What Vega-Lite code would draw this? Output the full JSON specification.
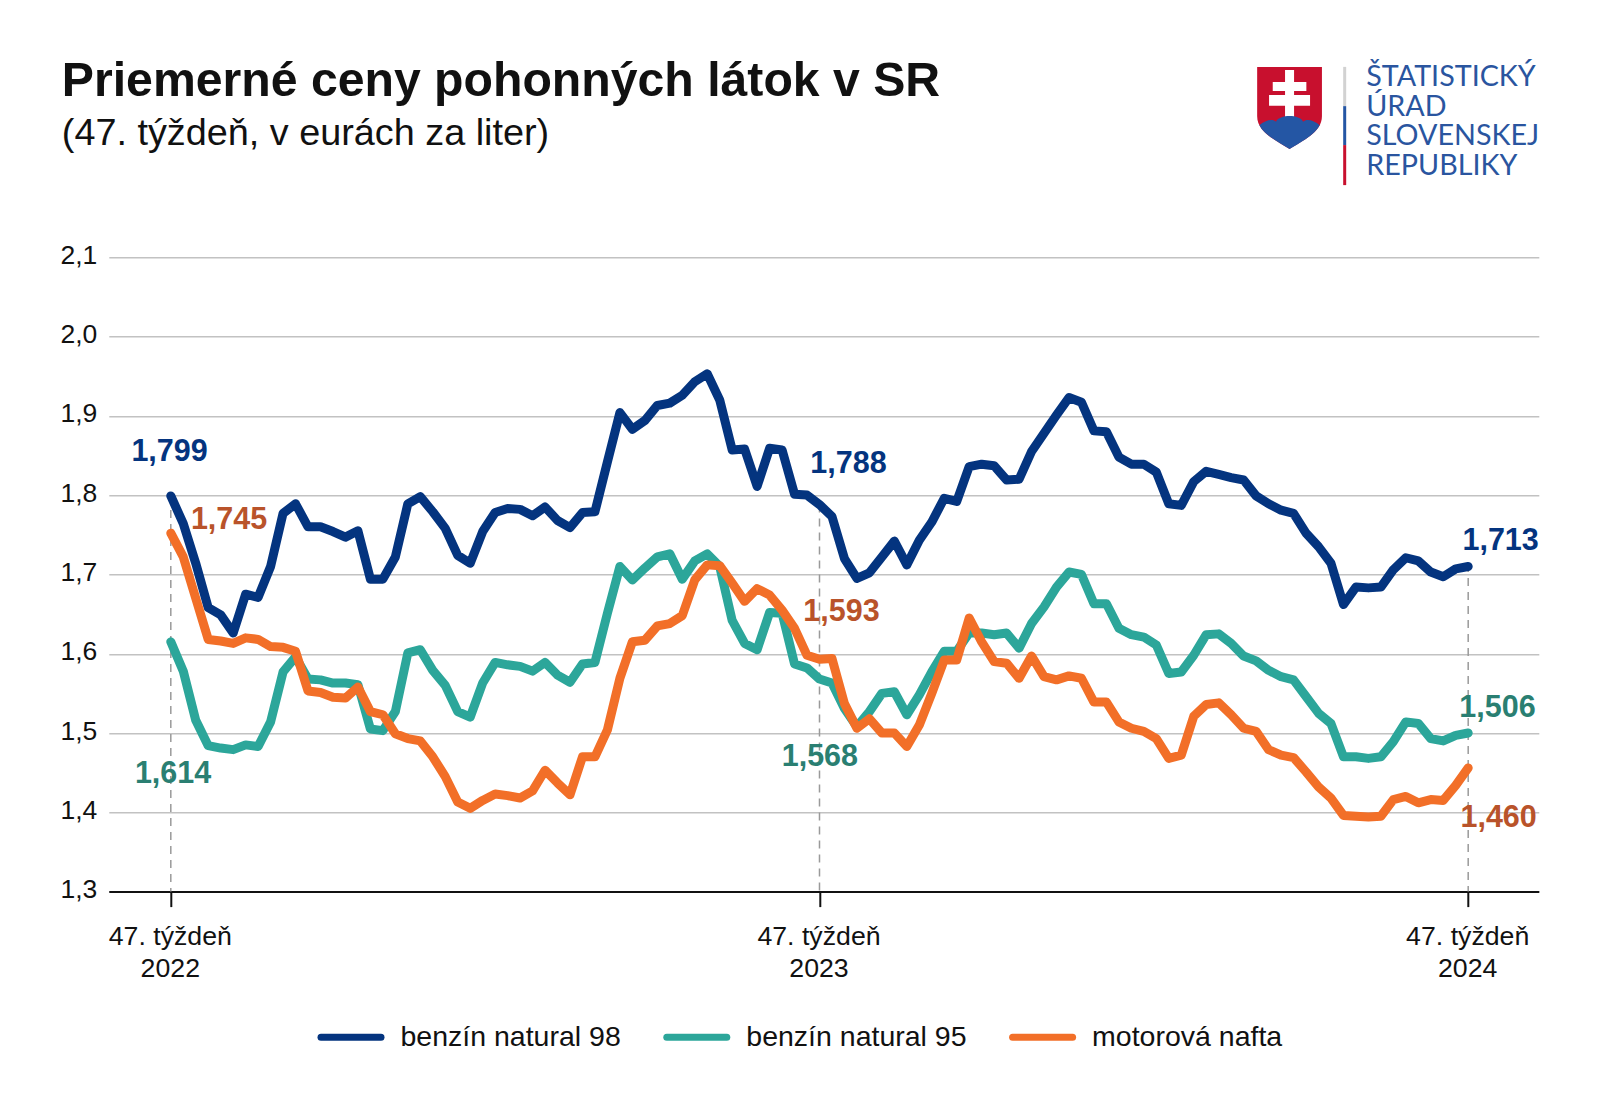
{"$schema":"https://vega.github.io/schema/vega-lite/v6.json","width":1430,"height":634.4,"autosize":{"type":"none"},"padding":{"left":108.8,"top":257.2,"right":61.2,"bottom":223.4},"background":"white","config":{"font":"Liberation Sans","view":{"stroke":null}},
"title":{"text":"Priemerné ceny pohonných látok v SR","subtitle":"(47. týždeň, v eurách za liter)","anchor":"start","frame":"group","dx":-47,"offset":-91,"fontSize":48.2,"fontWeight":"bold","color":"#111111","subtitleFontSize":37.8,"subtitleColor":"#111111","subtitleFontWeight":"normal","subtitlePadding":9,"font":"Liberation Sans","subtitleFont":"Liberation Sans"},
"datasets":{"prices":[
{"week":0,"benzín natural 98":1.799,"benzín natural 95":1.615,"motorová nafta":1.752},
{"week":1,"benzín natural 98":1.764,"benzín natural 95":1.578,"motorová nafta":1.722},
{"week":2,"benzín natural 98":1.714,"benzín natural 95":1.516,"motorová nafta":1.670},
{"week":3,"benzín natural 98":1.658,"benzín natural 95":1.484,"motorová nafta":1.618},
{"week":4,"benzín natural 98":1.649,"benzín natural 95":1.481,"motorová nafta":1.616},
{"week":5,"benzín natural 98":1.626,"benzín natural 95":1.479,"motorová nafta":1.613},
{"week":6,"benzín natural 98":1.675,"benzín natural 95":1.485,"motorová nafta":1.620},
{"week":7,"benzín natural 98":1.671,"benzín natural 95":1.483,"motorová nafta":1.618},
{"week":8,"benzín natural 98":1.710,"benzín natural 95":1.514,"motorová nafta":1.609},
{"week":9,"benzín natural 98":1.777,"benzín natural 95":1.577,"motorová nafta":1.608},
{"week":10,"benzín natural 98":1.789,"benzín natural 95":1.596,"motorová nafta":1.603},
{"week":11,"benzín natural 98":1.760,"benzín natural 95":1.568,"motorová nafta":1.553},
{"week":12,"benzín natural 98":1.760,"benzín natural 95":1.567,"motorová nafta":1.551},
{"week":13,"benzín natural 98":1.754,"benzín natural 95":1.563,"motorová nafta":1.545},
{"week":14,"benzín natural 98":1.747,"benzín natural 95":1.563,"motorová nafta":1.544},
{"week":15,"benzín natural 98":1.755,"benzín natural 95":1.561,"motorová nafta":1.558},
{"week":16,"benzín natural 98":1.694,"benzín natural 95":1.505,"motorová nafta":1.527},
{"week":17,"benzín natural 98":1.694,"benzín natural 95":1.503,"motorová nafta":1.523},
{"week":18,"benzín natural 98":1.722,"benzín natural 95":1.527,"motorová nafta":1.499},
{"week":19,"benzín natural 98":1.789,"benzín natural 95":1.601,"motorová nafta":1.493},
{"week":20,"benzín natural 98":1.798,"benzín natural 95":1.605,"motorová nafta":1.490},
{"week":21,"benzín natural 98":1.779,"benzín natural 95":1.579,"motorová nafta":1.470},
{"week":22,"benzín natural 98":1.758,"benzín natural 95":1.560,"motorová nafta":1.445},
{"week":23,"benzín natural 98":1.724,"benzín natural 95":1.527,"motorová nafta":1.413},
{"week":24,"benzín natural 98":1.714,"benzín natural 95":1.520,"motorová nafta":1.405},
{"week":25,"benzín natural 98":1.754,"benzín natural 95":1.563,"motorová nafta":1.415},
{"week":26,"benzín natural 98":1.778,"benzín natural 95":1.589,"motorová nafta":1.423},
{"week":27,"benzín natural 98":1.783,"benzín natural 95":1.586,"motorová nafta":1.421},
{"week":28,"benzín natural 98":1.782,"benzín natural 95":1.584,"motorová nafta":1.418},
{"week":29,"benzín natural 98":1.774,"benzín natural 95":1.578,"motorová nafta":1.427},
{"week":30,"benzín natural 98":1.785,"benzín natural 95":1.589,"motorová nafta":1.453},
{"week":31,"benzín natural 98":1.768,"benzín natural 95":1.573,"motorová nafta":1.437},
{"week":32,"benzín natural 98":1.759,"benzín natural 95":1.564,"motorová nafta":1.422},
{"week":33,"benzín natural 98":1.778,"benzín natural 95":1.587,"motorová nafta":1.470},
{"week":34,"benzín natural 98":1.779,"benzín natural 95":1.589,"motorová nafta":1.470},
{"week":35,"benzín natural 98":1.842,"benzín natural 95":1.651,"motorová nafta":1.504},
{"week":36,"benzín natural 98":1.904,"benzín natural 95":1.710,"motorová nafta":1.569},
{"week":37,"benzín natural 98":1.883,"benzín natural 95":1.693,"motorová nafta":1.615},
{"week":38,"benzín natural 98":1.894,"benzín natural 95":1.708,"motorová nafta":1.617},
{"week":39,"benzín natural 98":1.913,"benzín natural 95":1.722,"motorová nafta":1.635},
{"week":40,"benzín natural 98":1.916,"benzín natural 95":1.726,"motorová nafta":1.638},
{"week":41,"benzín natural 98":1.926,"benzín natural 95":1.694,"motorová nafta":1.648},
{"week":42,"benzín natural 98":1.943,"benzín natural 95":1.717,"motorová nafta":1.693},
{"week":43,"benzín natural 98":1.953,"benzín natural 95":1.726,"motorová nafta":1.712},
{"week":44,"benzín natural 98":1.920,"benzín natural 95":1.710,"motorová nafta":1.711},
{"week":45,"benzín natural 98":1.857,"benzín natural 95":1.642,"motorová nafta":1.689},
{"week":46,"benzín natural 98":1.858,"benzín natural 95":1.613,"motorová nafta":1.666},
{"week":47,"benzín natural 98":1.811,"benzín natural 95":1.605,"motorová nafta":1.682},
{"week":48,"benzín natural 98":1.859,"benzín natural 95":1.652,"motorová nafta":1.674},
{"week":49,"benzín natural 98":1.857,"benzín natural 95":1.651,"motorová nafta":1.655},
{"week":50,"benzín natural 98":1.801,"benzín natural 95":1.587,"motorová nafta":1.632},
{"week":51,"benzín natural 98":1.800,"benzín natural 95":1.582,"motorová nafta":1.598},
{"week":52,"benzín natural 98":1.788,"benzín natural 95":1.568,"motorová nafta":1.593},
{"week":53,"benzín natural 98":1.773,"benzín natural 95":1.563,"motorová nafta":1.594},
{"week":54,"benzín natural 98":1.720,"benzín natural 95":1.531,"motorová nafta":1.537},
{"week":55,"benzín natural 98":1.695,"benzín natural 95":1.508,"motorová nafta":1.506},
{"week":56,"benzín natural 98":1.702,"benzín natural 95":1.527,"motorová nafta":1.518},
{"week":57,"benzín natural 98":1.722,"benzín natural 95":1.550,"motorová nafta":1.500},
{"week":58,"benzín natural 98":1.742,"benzín natural 95":1.552,"motorová nafta":1.500},
{"week":59,"benzín natural 98":1.712,"benzín natural 95":1.523,"motorová nafta":1.483},
{"week":60,"benzín natural 98":1.743,"benzín natural 95":1.548,"motorová nafta":1.510},
{"week":61,"benzín natural 98":1.766,"benzín natural 95":1.577,"motorová nafta":1.550},
{"week":62,"benzín natural 98":1.796,"benzín natural 95":1.603,"motorová nafta":1.592},
{"week":63,"benzín natural 98":1.792,"benzín natural 95":1.603,"motorová nafta":1.592},
{"week":64,"benzín natural 98":1.836,"benzín natural 95":1.626,"motorová nafta":1.645},
{"week":65,"benzín natural 98":1.839,"benzín natural 95":1.626,"motorová nafta":1.615},
{"week":66,"benzín natural 98":1.837,"benzín natural 95":1.624,"motorová nafta":1.590},
{"week":67,"benzín natural 98":1.819,"benzín natural 95":1.626,"motorová nafta":1.588},
{"week":68,"benzín natural 98":1.820,"benzín natural 95":1.607,"motorová nafta":1.569},
{"week":69,"benzín natural 98":1.855,"benzín natural 95":1.638,"motorová nafta":1.597},
{"week":70,"benzín natural 98":1.878,"benzín natural 95":1.659,"motorová nafta":1.571},
{"week":71,"benzín natural 98":1.901,"benzín natural 95":1.684,"motorová nafta":1.567},
{"week":72,"benzín natural 98":1.923,"benzín natural 95":1.703,"motorová nafta":1.572},
{"week":73,"benzín natural 98":1.917,"benzín natural 95":1.700,"motorová nafta":1.569},
{"week":74,"benzín natural 98":1.881,"benzín natural 95":1.663,"motorová nafta":1.539},
{"week":75,"benzín natural 98":1.880,"benzín natural 95":1.663,"motorová nafta":1.539},
{"week":76,"benzín natural 98":1.848,"benzín natural 95":1.632,"motorová nafta":1.514},
{"week":77,"benzín natural 98":1.839,"benzín natural 95":1.624,"motorová nafta":1.506},
{"week":78,"benzín natural 98":1.839,"benzín natural 95":1.621,"motorová nafta":1.502},
{"week":79,"benzín natural 98":1.829,"benzín natural 95":1.611,"motorová nafta":1.493},
{"week":80,"benzín natural 98":1.789,"benzín natural 95":1.575,"motorová nafta":1.468},
{"week":81,"benzín natural 98":1.787,"benzín natural 95":1.577,"motorová nafta":1.472},
{"week":82,"benzín natural 98":1.817,"benzín natural 95":1.598,"motorová nafta":1.521},
{"week":83,"benzín natural 98":1.830,"benzín natural 95":1.624,"motorová nafta":1.536},
{"week":84,"benzín natural 98":1.826,"benzín natural 95":1.625,"motorová nafta":1.538},
{"week":85,"benzín natural 98":1.822,"benzín natural 95":1.613,"motorová nafta":1.523},
{"week":86,"benzín natural 98":1.819,"benzín natural 95":1.597,"motorová nafta":1.506},
{"week":87,"benzín natural 98":1.799,"benzín natural 95":1.591,"motorová nafta":1.502},
{"week":88,"benzín natural 98":1.789,"benzín natural 95":1.579,"motorová nafta":1.479},
{"week":89,"benzín natural 98":1.781,"benzín natural 95":1.571,"motorová nafta":1.472},
{"week":90,"benzín natural 98":1.777,"benzín natural 95":1.567,"motorová nafta":1.469},
{"week":91,"benzín natural 98":1.752,"benzín natural 95":1.546,"motorová nafta":1.451},
{"week":92,"benzín natural 98":1.735,"benzín natural 95":1.525,"motorová nafta":1.432},
{"week":93,"benzín natural 98":1.714,"benzín natural 95":1.512,"motorová nafta":1.418},
{"week":94,"benzín natural 98":1.662,"benzín natural 95":1.470,"motorová nafta":1.396},
{"week":95,"benzín natural 98":1.684,"benzín natural 95":1.470,"motorová nafta":1.395},
{"week":96,"benzín natural 98":1.683,"benzín natural 95":1.468,"motorová nafta":1.394},
{"week":97,"benzín natural 98":1.684,"benzín natural 95":1.470,"motorová nafta":1.395},
{"week":98,"benzín natural 98":1.706,"benzín natural 95":1.489,"motorová nafta":1.416},
{"week":99,"benzín natural 98":1.721,"benzín natural 95":1.514,"motorová nafta":1.420},
{"week":100,"benzín natural 98":1.717,"benzín natural 95":1.512,"motorová nafta":1.412},
{"week":101,"benzín natural 98":1.703,"benzín natural 95":1.493,"motorová nafta":1.416},
{"week":102,"benzín natural 98":1.697,"benzín natural 95":1.490,"motorová nafta":1.415},
{"week":103,"benzín natural 98":1.707,"benzín natural 95":1.497,"motorová nafta":1.434},
{"week":104,"benzín natural 98":1.710,"benzín natural 95":1.500,"motorová nafta":1.456}
]},
"encoding":{
"x":{"field":"week","type":"quantitative","scale":{"domain":[-4.97,109.66],"nice":false,"zero":false},"axis":{"values":[0,52,104],"title":null,"grid":false,"domainColor":"#111111","domainWidth":2,"tickColor":"#111111","tickWidth":2,"tickSize":15,"labelFontSize":26.7,"labelColor":"#111111","labelPadding":17,"labelOffset":-1,"labelLineHeight":32,"labelBaseline":"top","labelOverlap":false,"labelBound":false,"labelFlush":false,"labelExpr":"['47. týždeň', datum.value==0?'2022':datum.value==52?'2023':'2024']"}},
"y":{"field":"price","type":"quantitative","scale":{"domain":[1.3,2.1],"nice":false,"zero":false},"axis":{"values":[1.3,1.4,1.5,1.6,1.7,1.8,1.9,2.0,2.1],"title":null,"domain":false,"ticks":false,"grid":true,"gridColor":"#c2c2c2","gridWidth":1.5,"labelFontSize":26.5,"labelColor":"#111111","labelPadding":12,"labelOffset":-2,"labelOverlap":false,"labelBound":false,"labelExpr":"replace(format(datum.value,'.1f'),'.',',')"}}
},
"layer":[
{"data":{"values":[{"week":0,"price":1.799},{"week":52,"price":1.788},{"week":104,"price":1.713}]},"mark":{"type":"rule","color":"#9a9a9a","strokeWidth":1.5,"strokeDash":[8,6]},"encoding":{"y2":{"datum":1.3}}},
{"data":{"name":"prices"},"transform":[{"fold":["benzín natural 98","benzín natural 95","motorová nafta"],"as":["series","price"]}],"mark":{"type":"line","strokeWidth":9,"strokeCap":"round","strokeJoin":"round"},"encoding":{"color":{"field":"series","type":"nominal","sort":null,"scale":{"domain":["benzín natural 98","benzín natural 95","motorová nafta"],"range":["#04347f","#2ca69a","#f26f28"]},"legend":{"orient":"none","legendX":208.7,"legendY":746.6,"direction":"horizontal","columns":3,"title":null,"symbolType":"stroke","symbolSize":3600,"symbolStrokeWidth":7,"labelFontSize":28.5,"labelColor":"#111111","labelOffset":16,"columnPadding":30.8,"labelLimit":400,"encode":{"symbols":{"update":{"strokeCap":{"value":"round"}}}}}}}},
{"data":{"values":[{"series":"98","week":-0.1,"price":1.857,"label":"1,799"},{"series":"98","week":54.32,"price":1.8416,"label":"1,788"},{"series":"98","week":106.6,"price":1.7445,"label":"1,713"},{"series":"95","week":0.18,"price":1.4513,"label":"1,614"},{"series":"95","week":52.03,"price":1.472,"label":"1,568"},{"series":"95","week":106.35,"price":1.534,"label":"1,506"},{"series":"nafta","week":4.67,"price":1.7705,"label":"1,745"},{"series":"nafta","week":53.76,"price":1.655,"label":"1,593"},{"series":"nafta","week":106.44,"price":1.395,"label":"1,460"}]},"mark":{"type":"text","fontSize":30.5,"fontWeight":"bold","align":"center","baseline":"middle","dy":2},"encoding":{"text":{"field":"label","type":"nominal"},"color":{"field":"series","type":"nominal","scale":{"domain":["98","95","nafta"],"range":["#04347f","#2a7f72","#b9532a"]},"legend":null}}},
{"data":{"values":[{"part":"grey","week":94.1,"price":2.34,"end":2.2905},{"part":"blue","week":94.1,"price":2.2905,"end":2.2414},{"part":"red","week":94.1,"price":2.2414,"end":2.1909}]},"mark":{"type":"rule","strokeWidth":3},"encoding":{"y2":{"field":"end"},"color":{"field":"part","type":"nominal","scale":{"domain":["grey","blue","red"],"range":["#d2d2d2","#2456a4","#c8102e"]},"legend":null}}},
{"data":{"values":[{"week":89.68,"price":2.288}]},"mark":{"type":"point","filled":true,"opacity":1,"strokeWidth":0,"size":6724,"color":"#c8102e","shape":"M-0.79,-1 L0.79,-1 L0.79,0.2 C0.79,0.6 0.3,0.8 0,1 C-0.3,0.8 -0.79,0.6 -0.79,0.2 Z"}},
{"data":{"values":[{"week":89.68,"price":2.288}]},"mark":{"type":"point","filled":true,"opacity":1,"strokeWidth":0,"size":6724,"color":"#ffffff","shape":"M-0.11,-0.93 L0.11,-0.93 L0.11,-0.64 L0.41,-0.64 L0.41,-0.42 L0.11,-0.42 L0.11,-0.32 L0.5,-0.32 L0.5,-0.06 L0.11,-0.06 L0.11,0.3 L-0.11,0.3 L-0.11,-0.06 L-0.5,-0.06 L-0.5,-0.32 L-0.11,-0.32 L-0.11,-0.42 L-0.41,-0.42 L-0.41,-0.64 L-0.11,-0.64 Z"}},
{"data":{"values":[{"week":89.68,"price":2.288}]},"mark":{"type":"point","filled":true,"opacity":1,"strokeWidth":0,"size":6724,"color":"#2456a4","shape":"M-0.736,0.417 C-0.6,0.3 -0.42,0.25 -0.33,0.33 C-0.25,0.15 0.25,0.15 0.33,0.33 C0.42,0.25 0.6,0.3 0.736,0.417 C0.6016,0.68 0.24,0.84 0,1 C-0.24,0.84 -0.6016,0.68 -0.736,0.417 Z"}},
{"data":{"values":[{"week":95.83,"price":2.3158,"line":"ŠTATISTICKÝ"},{"week":95.83,"price":2.2779,"line":"ÚRAD"},{"week":95.83,"price":2.2414,"line":"SLOVENSKEJ"},{"week":95.83,"price":2.2035,"line":"REPUBLIKY"}]},"mark":{"type":"text","font":"Lato","fontSize":28.7,"align":"left","baseline":"alphabetic","color":"#2a559f"},"encoding":{"text":{"field":"line","type":"nominal"}}}
],
"resolve":{"scale":{"color":"independent"}}}
